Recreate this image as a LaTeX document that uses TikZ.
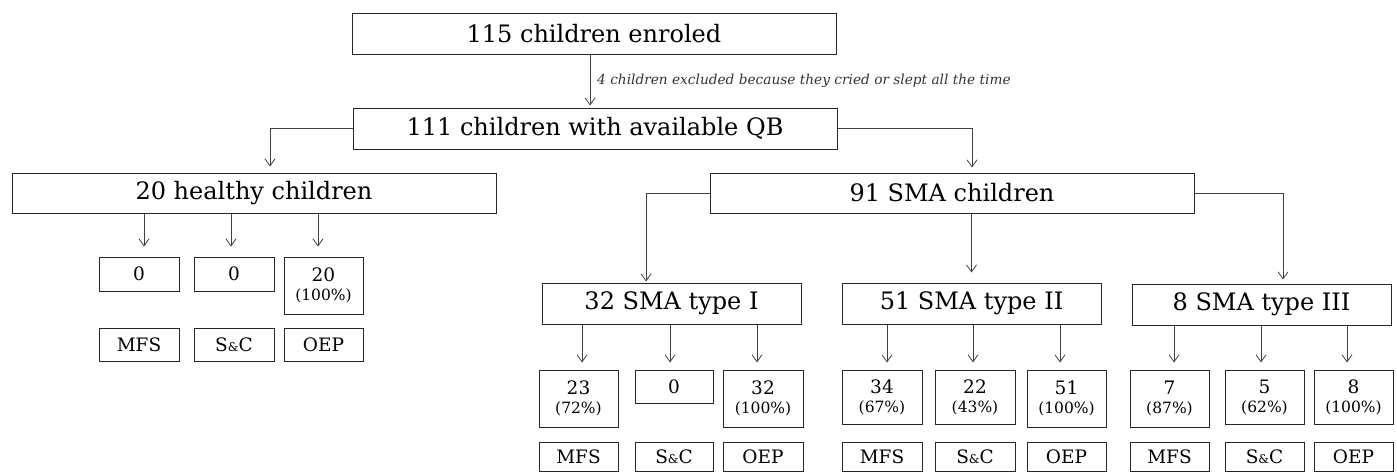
\documentclass[tikz,border=0pt]{standalone}
\usepackage{fontspec}
\setmainfont{DejaVu Serif}
\usetikzlibrary{arrows.meta}
\tikzset{
  boxbase/.style={draw=black!85, line width=1pt, inner sep=0pt, align=center, text=black},
  bigbox/.style={boxbase, font=\fontsize{24}{28}\selectfont},
  smallbox/.style={boxbase, font=\fontsize{18.5}{19}\selectfont},
  conn/.style={draw=black!75, line width=0.8pt, -{Straight Barb[length=7pt,width=10pt,line width=0.8pt]}},
  caption/.style={font=\fontsize{13.7}{16}\selectfont\itshape, text=black!80, inner sep=0pt, anchor=west}
}
\newcommand{\mybox}[7]{\node[#1, minimum width={#4-#2}, minimum height={#5-#3}] (#6) at ({(#2+#4)/2},{(#3+#5)/2}) {#7};}
\newcommand{\pct}[1]{\\[0pt]{\fontsize{15.5}{17}\selectfont(#1\%)}}
\newcommand{\sandc}{S{\fontsize{12}{12}\selectfont\&}C}
\newcommand{\subarrow}[4]{\coordinate (tmp#2) at ([xshift=#3pt]#2.north); \draw[conn, shorten >=#4pt] (tmp#2 |- #1.south) -- (tmp#2);}
\begin{document}
\begin{tikzpicture}[x=1pt,y=-1pt]
\useasboundingbox (0,0) rectangle (1397,472);
% main boxes
\mybox{bigbox}{352}{13}{836}{54}{b1}{115 children enroled}
\mybox{bigbox}{353}{108}{837}{149}{b2}{111 children with available QB}
\mybox{bigbox}{12}{173}{496}{213}{b3}{20 healthy children}
\mybox{bigbox}{710}{173}{1194}{213}{b4}{91 SMA children}
\mybox{bigbox}{542}{283}{801}{324}{t1}{32 SMA type I}
\mybox{bigbox}{842}{283}{1101}{324}{t2}{51 SMA type II}
\mybox{bigbox}{1132}{284}{1391}{325}{t3}{8 SMA type III}
% caption
\node[caption] (cap) at (597,81) {4 children excluded because they cried or slept all the time};
% healthy
\mybox{smallbox}{99}{257}{179}{291}{h1}{0}
\mybox{smallbox}{194}{257}{274}{291}{h2}{0}
\mybox{smallbox}{284}{257}{363}{314}{h3}{20\pct{100}}
\mybox{smallbox}{99}{328}{179}{361}{hl1}{MFS}
\mybox{smallbox}{194}{328}{274}{361}{hl2}{\sandc}
\mybox{smallbox}{284}{328}{363}{361}{hl3}{OEP}
% type I
\mybox{smallbox}{539}{370}{618}{427}{m1}{23\pct{72}}
\mybox{smallbox}{635}{370}{713}{403}{m2}{0}
\mybox{smallbox}{723}{370}{803}{427}{m3}{32\pct{100}}
\mybox{smallbox}{539}{442}{618}{471}{ml1}{MFS}
\mybox{smallbox}{635}{442}{713}{471}{ml2}{\sandc}
\mybox{smallbox}{723}{442}{803}{471}{ml3}{OEP}
% type II
\mybox{smallbox}{842}{370}{922}{424}{n1}{34\pct{67}}
\mybox{smallbox}{935}{370}{1015}{424}{n2}{22\pct{43}}
\mybox{smallbox}{1027}{370}{1106}{427}{n3}{51\pct{100}}
\mybox{smallbox}{842}{442}{922}{471}{nl1}{MFS}
\mybox{smallbox}{935}{442}{1015}{471}{nl2}{\sandc}
\mybox{smallbox}{1027}{442}{1106}{471}{nl3}{OEP}
% type III
\mybox{smallbox}{1130}{370}{1209}{427}{p1}{7\pct{87}}
\mybox{smallbox}{1225}{370}{1304}{424}{p2}{5\pct{62}}
\mybox{smallbox}{1314}{370}{1393}{424}{p3}{8\pct{100}}
\mybox{smallbox}{1130}{442}{1209}{471}{pl1}{MFS}
\mybox{smallbox}{1225}{442}{1304}{471}{pl2}{\sandc}
\mybox{smallbox}{1314}{442}{1393}{471}{pl3}{OEP}
% connectors
\draw[conn, shorten >=2pt] ([xshift=-4pt]b1.south) -- ([xshift=-5pt]b2.north);
\draw[conn, shorten >=6pt] (b2.west) -| ([xshift=16pt]b3.north);
\draw[conn, shorten >=5pt] (b2.east) -| ([xshift=20pt]b4.north);
\draw[conn, shorten >=1pt] (b4.west) -| ([xshift=-25.5pt]t1.north);
\draw[conn, shorten >=10pt] (b4.south -| t2.north) -- (t2.north);
\draw[conn, shorten >=4pt] (b4.east) -| ([xshift=21.5pt]t3.north);
\subarrow{b3}{h1}{5}{10}
\subarrow{b3}{h2}{-3}{10}
\subarrow{b3}{h3}{-5.5}{10}
\subarrow{t1}{m1}{3.5}{7}
\subarrow{t1}{m2}{-4}{7}
\subarrow{t1}{m3}{-6}{7}
\subarrow{t2}{n1}{5}{7}
\subarrow{t2}{n2}{-2}{7}
\subarrow{t2}{n3}{-6.5}{7}
\subarrow{t3}{p1}{4.5}{7}
\subarrow{t3}{p2}{-3.5}{7}
\subarrow{t3}{p3}{-6.5}{7}
\end{tikzpicture}
\end{document}
